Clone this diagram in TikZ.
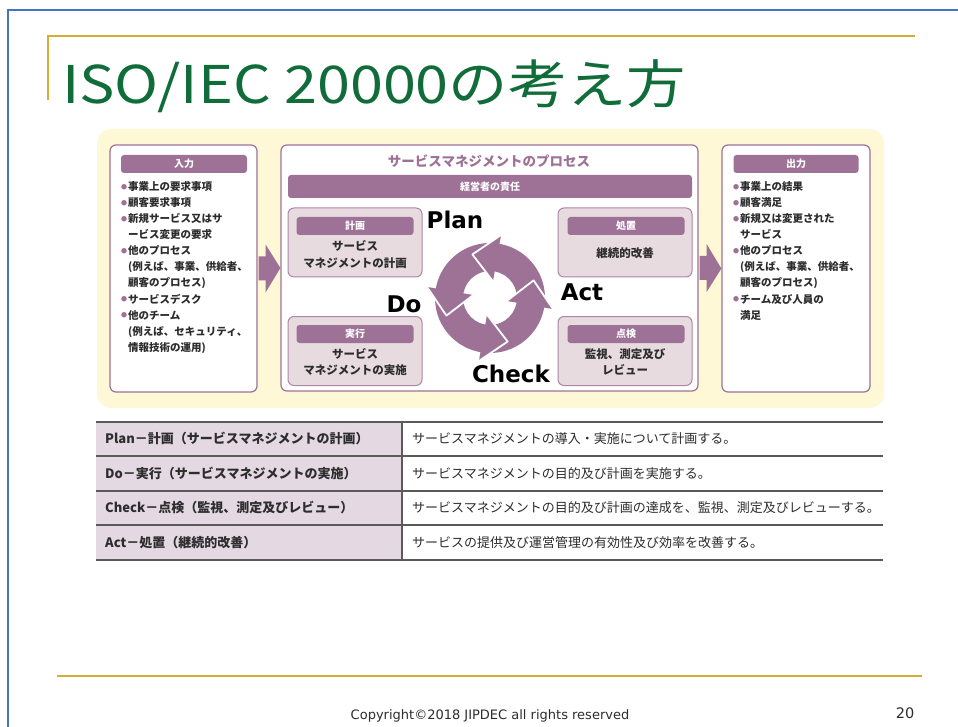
\documentclass[tikz,border=0pt]{standalone}
\usepackage{fontspec}
\setmainfont{Noto Sans CJK JP}
\newfontfamily\pdcafont{DejaVu Sans}
\newfontfamily\cpyfont{DejaVu Sans}
\usetikzlibrary{calc}
\definecolor{purp}{RGB}{158,114,150}
\definecolor{mauve}{RGB}{231,219,224}
\definecolor{tabfill}{RGB}{228,216,226}
\definecolor{ybg}{RGB}{255,248,214}
\definecolor{gold}{RGB}{214,172,52}
\definecolor{ttl}{RGB}{16,108,56}
\definecolor{blueb}{RGB}{68,114,196}
\definecolor{txt}{RGB}{45,45,45}
\definecolor{tline}{RGB}{90,90,90}
\newcommand\bul{\makebox[7pt][l]{\raisebox{1.6pt}{\textcolor{purp}{\fontsize{6}{6}\selectfont ●}}}}
\newcommand\ind{\hspace*{7pt}}
\begin{document}
\begin{tikzpicture}[x=1pt,y=-1pt,
  box/.style={draw=purp, line width=1.2, fill=white, rounded corners=6, inner sep=0},
  hdr/.style={fill=purp, rounded corners=3, text=white, inner sep=0, font=\fontsize{10}{12}\selectfont\bfseries},
  subbox/.style={draw=purp!85, line width=1, fill=mauve, rounded corners=6, inner sep=0, minimum width=134, minimum height=69},
  subhdr/.style={hdr, minimum width=117, minimum height=18},
  subtxt/.style={inner sep=0, text=txt, font=\fontsize{11.5}{13}\selectfont\bfseries},
  pdca/.style={inner sep=0, font=\pdcafont\bfseries\fontsize{23}{23}\selectfont},
  btxt/.style={anchor=base west, inner sep=0, text=txt, font=\fontsize{10.5}{12}\selectfont\bfseries},
  tltxt/.style={anchor=base west, inner sep=0, text=txt, font=\fontsize{13}{15}\selectfont\bfseries},
  trtxt/.style={anchor=base west, inner sep=0, text=txt, font=\fontsize{13}{15}\selectfont},
  bigarrow/.style={fill=purp},
  cyclehead/.style={fill=purp, draw=white, line width=1.8, line join=round}
]
\useasboundingbox (0,0) rectangle (958,727);
\fill[white] (0,0) rectangle (958,727);
% page frame
\draw[blueb, line width=1.5] (958,10) -- (8,10) -- (8,727);
% title rules
\draw[gold, line width=2] (48,100) -- (48,36) -- (915,36);
\draw[gold, line width=2] (57,676) -- (922,676);
\node[anchor=base west, inner sep=0, text=ttl, font=\fontsize{52}{52}\selectfont] (title) at (62,104) {\scalebox{1.14}[1]{ISO/IEC 20000の考え方}};

% yellow background
\fill[ybg, rounded corners=14] (97,129) rectangle (884,408);

% main boxes
\node[box, minimum width=147, minimum height=247] (inbox) at (183.5,268.5) {};
\node[box, minimum width=417, minimum height=246] (proc) at (489.5,268) {};
\node[box, minimum width=148, minimum height=247] (outbox) at (796,268.5) {};

% connecting arrows
\fill[bigarrow] ($(inbox.east)+(1,-12)$) -- ($(inbox.east)+(8,-12)$) -- ($(inbox.east)+(8,-24)$) -- (proc.west) -- ($(inbox.east)+(8,24)$) -- ($(inbox.east)+(8,12)$) -- ($(inbox.east)+(1,12)$) -- cycle;
\fill[bigarrow] ($(proc.east)+(1,-12)$) -- ($(proc.east)+(8,-12)$) -- ($(proc.east)+(8,-24)$) -- (outbox.west) -- ($(proc.east)+(8,24)$) -- ($(proc.east)+(8,12)$) -- ($(proc.east)+(1,12)$) -- cycle;

% input
\node[hdr, minimum width=126, minimum height=18] (inh) at (184,164) {入力};
\foreach \t [count=\i] in {\bul 事業上の要求事項, \bul 顧客要求事項, \bul 新規サービス又はサ, \ind ービス変更の要求, \bul 他のプロセス, \ind (例えば、事業、供給者、, \ind 顧客のプロセス), \bul サービスデスク, \bul 他のチーム, \ind (例えば、セキュリティ、, \ind 情報技術の運用)}
  \node[btxt] (in\i) at (121,{175+16*\i}) {\t};

% output
\node[hdr, minimum width=125, minimum height=18] (outh) at (796,164) {出力};
\foreach \t [count=\i] in {\bul 事業上の結果, \bul 顧客満足, \bul 新規又は変更された, \ind サービス, \bul 他のプロセス, \ind (例えば、事業、供給者、, \ind 顧客のプロセス), \bul チーム及び人員の, \ind 満足}
  \node[btxt] (out\i) at (733,{175+16*\i}) {\t};

% process
\node[inner sep=0, text=purp, font=\fontsize{13.5}{15}\selectfont\bfseries] (ptitle) at (489,161) {サービスマネジメントのプロセス};
\node[hdr, minimum width=404, minimum height=23] (mgmt) at (490,186.5) {経営者の責任};

\node[subbox] (plb) at (355,242.5) {};
\node[subhdr] (plh) at (355,226) {計画};
\node[subtxt] (plt1) at (355,246) {サービス};
\node[subtxt] (plt2) at (355,263) {マネジメントの計画};

\node[subbox] (dob) at (355,351) {};
\node[subhdr] (doh) at (355,334) {実行};
\node[subtxt] (dot1) at (355,354) {サービス};
\node[subtxt] (dot2) at (355,370) {マネジメントの実施};

\node[subbox] (acb) at (625,242.5) {};
\node[subhdr] (ach) at (626,226) {処置};
\node[subtxt] (act1) at (625,253) {継続的改善};

\node[subbox] (chb) at (625,351) {};
\node[subhdr] (chh) at (626,334) {点検};
\node[subtxt] (cht1) at (625,354) {監視、測定及び};
\node[subtxt] (cht2) at (625,370) {レビュー};

% PDCA cycle: ring of four counter-clockwise arrows
\begin{scope}[shift={(490,298)}, yscale=-1]
  \fill[purp, even odd rule] (0,0) circle[radius=55] (0,0) circle[radius=27];
  \foreach \k in {0,1,2,3} {
    \path[cyclehead]
      ({90*\k+80}:64) -- ({90*\k+112}:47) -- ({90*\k+80}:17);
  }
\end{scope}
\node[pdca] (plan) at (455,220) {Plan};
\node[pdca] (do) at (404,304) {Do};
\node[pdca] (act) at (582,292) {Act};
\node[pdca] (check) at (511,374) {Check};

% table
\fill[tabfill] (96,422) rectangle (402,560);
\foreach \yy in {422,456,491,525,560} \draw[tline, line width=1.5] (96,\yy) -- (883,\yy);
\draw[tline, line width=2] (402,422) -- (402,560);
\node[tltxt] (r1l) at (105,443.5) {Plan－計画（サービスマネジメントの計画）};
\node[tltxt] (r2l) at (105,478) {Do－実行（サービスマネジメントの実施）};
\node[tltxt] (r3l) at (105,512.5) {Check－点検（監視、測定及びレビュー）};
\node[tltxt] (r4l) at (105,547) {Act－処置（継続的改善）};
\node[trtxt] (r1r) at (412,443.5) {サービスマネジメントの導入・実施について計画する。};
\node[trtxt] (r2r) at (412,478) {サービスマネジメントの目的及び計画を実施する。};
\node[trtxt] (r3r) at (412,512.5) {サービスマネジメントの目的及び計画の達成を、監視、測定及びレビューする。};
\node[trtxt] (r4r) at (412,547) {サービスの提供及び運営管理の有効性及び効率を改善する。};

% footer
\node[inner sep=0, text=txt, font=\cpyfont\fontsize{13}{13}\selectfont] (copy) at (490,716) {Copyright©2018 JIPDEC all rights reserved};
\node[inner sep=0, text=txt, font=\cpyfont\fontsize{14.5}{15}\selectfont] (pg) at (905,713) {20};
\end{tikzpicture}
\end{document}
